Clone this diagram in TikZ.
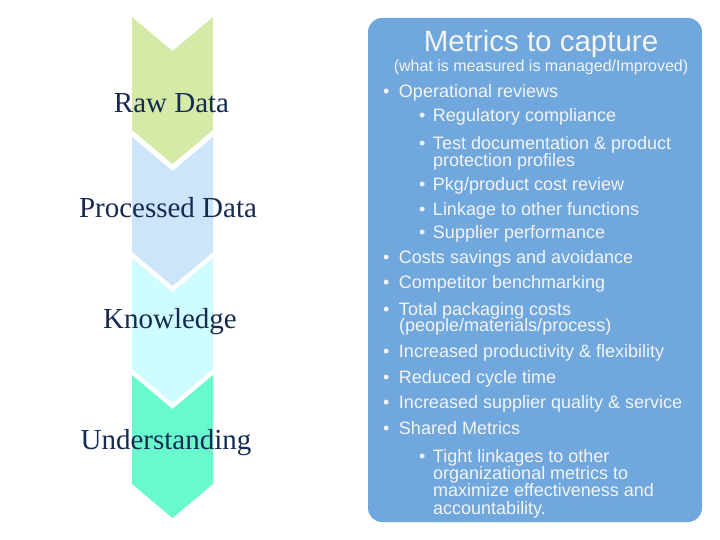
\documentclass[tikz,border=0pt]{standalone}
\usepackage{fontspec}
\setmainfont{Liberation Sans}
\newfontfamily\etapafont{Liberation Serif}
\usepackage{tikz}
\usetikzlibrary{positioning}
\definecolor{sage}{RGB}{214, 234, 168}
\definecolor{sky}{RGB}{204, 229, 250}
\definecolor{ice}{RGB}{206, 252, 255}
\definecolor{mint}{RGB}{104, 250, 204}
\definecolor{panel}{RGB}{112, 167, 220}
\definecolor{ink}{RGB}{22, 42, 82}
\definecolor{chalk}{RGB}{244, 244, 244}

\begin{document}
\begin{tikzpicture}[x=1pt, y=-1pt,
    etapa/.style={font=\etapafont\fontsize{29}{31}\selectfont, text=ink, inner sep=0pt, anchor=base},
    linha/.style={font=\fontsize{18}{18}\selectfont, text=chalk, inner sep=0pt, anchor=base west}]
  \useasboundingbox (0,0) rectangle (720,540);
  % setas (chevrons) da esquerda
  \foreach \ya/\yb/\cor in {17/130/sage, 137/252/sky, 258/369/ice, 375/484/mint}
    \fill[\cor] (132,\ya) -- (172.5,\ya+34) -- (213,\ya) -- (213,\yb)
      -- (172.5,\yb+34) -- (132,\yb) -- cycle;
  \node[etapa] (raw) at (171.5,113) {Raw Data};
  \node[etapa] (proc) at (168,218) {Processed Data};
  \node[etapa] (know) at (170,328) {Knowledge};
  \node[etapa] (und) at (166,449) {Understanding};
  % painel das metricas
  \fill[panel, rounded corners=14pt] (368,18) rectangle (702,522);
  \node[font=\fontsize{29.5}{31}\selectfont, text=chalk, inner sep=0pt, anchor=base] (tit) at (541,52) {Metrics to capture};
  \node[font=\fontsize{16}{18}\selectfont, text=chalk, inner sep=0pt, anchor=base] (sub) at (541,72) {(what is measured is managed/Improved)};
  % itens de primeiro nivel
  \node[linha] (op) at (383,97.5) {•\hspace{9.5pt}Operational reviews};
  \node[linha] (cs) at (383,263.5) {•\hspace{9.5pt}Costs savings and avoidance};
  \node[linha] (cb) at (383,288.5) {•\hspace{9.5pt}Competitor benchmarking};
  \node[linha] (tp) at (383,315) {•\hspace{9.5pt}Total packaging costs};
  \node[linha] (tp2) at (399,331.5) {(people/materials/process)};
  \node[linha] (ip) at (383,357) {•\hspace{9.5pt}Increased productivity \& flexibility};
  \node[linha] (rc) at (383,383) {•\hspace{9.5pt}Reduced cycle time};
  \node[linha] (isq) at (383,408.5) {•\hspace{9.5pt}Increased supplier quality \& service};
  \node[linha] (sm) at (383,434) {•\hspace{9.5pt}Shared Metrics};
  % itens de segundo nivel
  \node[linha] (reg) at (419,121.5) {•\hspace{7.5pt}Regulatory compliance};
  \node[linha] (td) at (419,150) {•\hspace{7.5pt}Test documentation \& product};
  \node[linha] (td2) at (433,166.5) {protection profiles};
  \node[linha] (pkg) at (419,191) {•\hspace{7.5pt}Pkg/product cost review};
  \node[linha] (lk) at (419,215) {•\hspace{7.5pt}Linkage to other functions};
  \node[linha] (sp) at (419,239) {•\hspace{7.5pt}Supplier performance};
  \node[linha] (tl) at (419,462) {•\hspace{7.5pt}Tight linkages to other};
  \node[linha] (tl2) at (433,479) {organizational metrics to};
  \node[linha] (tl3) at (433,496.5) {maximize effectiveness and};
  \node[linha] (tl4) at (433,514) {accountability.};
\end{tikzpicture}
\end{document}
